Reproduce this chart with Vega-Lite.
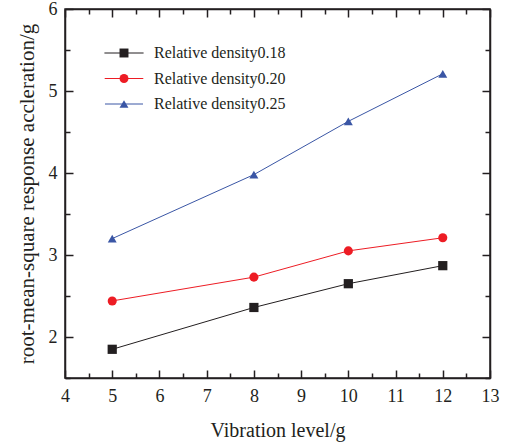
{
  "$schema": "https://vega.github.io/schema/vega-lite/v6.json",
  "width": 425,
  "height": 369,
  "autosize": "none",
  "padding": {"left": 65, "top": 9, "right": 17, "bottom": 67},
  "background": "white",
  "config": {"view": {"stroke": "#231f20", "strokeWidth": 1.5}, "font": "Liberation Serif",
    "axis": {"labelFont": "Liberation Serif", "titleFont": "Liberation Serif"},
    "legend": {"labelFont": "Liberation Serif"}},
  "data": {"values": [
    {"series": "Relative density0.18", "level": 5, "acc": 1.85},
    {"series": "Relative density0.18", "level": 8, "acc": 2.36},
    {"series": "Relative density0.18", "level": 10, "acc": 2.65},
    {"series": "Relative density0.18", "level": 12, "acc": 2.87},
    {"series": "Relative density0.20", "level": 5, "acc": 2.44},
    {"series": "Relative density0.20", "level": 8, "acc": 2.73},
    {"series": "Relative density0.20", "level": 10, "acc": 3.05},
    {"series": "Relative density0.20", "level": 12, "acc": 3.21},
    {"series": "Relative density0.25", "level": 5, "acc": 3.20},
    {"series": "Relative density0.25", "level": 8, "acc": 3.98},
    {"series": "Relative density0.25", "level": 10, "acc": 4.63},
    {"series": "Relative density0.25", "level": 12, "acc": 5.21}
  ]},
  "layer": [
    {
      "mark": {"type": "line", "strokeWidth": 1},
      "encoding": {
        "x": {"field": "level", "type": "quantitative", "scale": {"domain": [4, 13], "nice": false},
          "axis": {"orient": "bottom", "values": [4,4.5,5,5.5,6,6.5,7,7.5,8,8.5,9,9.5,10,10.5,11,11.5,12,12.5,13],
            "labelExpr": "datum.value % 1 === 0 ? format(datum.value, 'd') : ''",
            "tickSize": {"condition": {"test": "datum.value % 1 === 0", "value": -8}, "value": -5},
            "tickColor": "#231f20", "tickWidth": 1.5, "domainColor": "#231f20", "domainWidth": 1.5,
            "labelFontSize": 18, "labelColor": "#231f20", "labelPadding": 17, "labelFlush": false,
            "title": "Vibration level/g", "titleFontSize": 20, "titleFontWeight": "normal", "titleColor": "#231f20", "titlePadding": 15, "grid": false}},
        "y": {"field": "acc", "type": "quantitative", "scale": {"domain": [1.5, 6], "nice": false, "zero": false},
          "axis": {"orient": "left", "values": [1.5,2,2.5,3,3.5,4,4.5,5,5.5,6],
            "labelExpr": "datum.value % 1 === 0 ? format(datum.value, 'd') : ''",
            "tickSize": {"condition": {"test": "datum.value % 1 === 0", "value": -8}, "value": -5},
            "tickColor": "#231f20", "tickWidth": 1.5, "domainColor": "#231f20", "domainWidth": 1.5,
            "labelFontSize": 18, "labelColor": "#231f20", "labelPadding": 16, "labelFlush": false,
            "title": "root-mean-square response accleration/g", "titleFontSize": 21, "titleFontWeight": "normal", "titleColor": "#231f20", "titlePadding": 11, "grid": false}},
        "color": {
          "field": "series", "type": "nominal",
          "scale": {"domain": ["Relative density0.18", "Relative density0.20", "Relative density0.25"], "range": ["#231f20", "#ed1c24", "#3a56a5"]},
          "legend": {
            "orient": "none", "legendX": 51, "legendY": 36, "title": null, "padding": 0,
            "labelFontSize": 16, "labelFont": "Liberation Serif", "labelColor": "#231f20",
            "labelOffset": 22, "rowPadding": 9.5, "symbolSize": 80, "symbolStrokeWidth": 1,
            "symbolType": "M-4.25,0H4.25", "labelLimit": 300, "labelExpr": "datum.label"
          }
        }
      }
    },
    {
      "mark": {"type": "point", "filled": true, "opacity": 1},
      "encoding": {
        "x": {"field": "level", "type": "quantitative",
          "axis": {"orient": "top", "values": [4,4.5,5,5.5,6,6.5,7,7.5,8,8.5,9,9.5,10,10.5,11,11.5,12,12.5,13],
            "labels": false, "title": null, "grid": false,
            "tickSize": {"condition": {"test": "datum.value % 1 === 0", "value": -8}, "value": -5},
            "tickColor": "#231f20", "tickWidth": 1.5, "domainColor": "#231f20", "domainWidth": 1.5}},
        "y": {"field": "acc", "type": "quantitative",
          "axis": {"orient": "right", "values": [1.5,2,2.5,3,3.5,4,4.5,5,5.5,6],
            "labels": false, "title": null, "grid": false,
            "tickSize": {"condition": {"test": "datum.value % 1 === 0", "value": -8}, "value": -5},
            "tickColor": "#231f20", "tickWidth": 1.5, "domainColor": "#231f20", "domainWidth": 1.5}},
        "fill": {"field": "series", "type": "nominal",
          "scale": {"range": ["#231f20", "#ed1c24", "#3a56a5"]},
          "legend": {
            "orient": "none", "legendX": 51, "legendY": 36, "title": null, "padding": 0,
            "labelFontSize": 16, "labelExpr": "''", "rowPadding": 9.5, "symbolSize": 80,
            "symbolStrokeWidth": 0, "symbolOpacity": 1
          }},
        "shape": {"field": "series", "type": "nominal",
          "scale": {"range": ["square", "circle", "triangle-up"]},
          "legend": {
            "orient": "none", "legendX": 51, "legendY": 36, "title": null, "padding": 0,
            "labelFontSize": 16, "labelExpr": "''", "rowPadding": 9.5, "symbolSize": 80,
            "symbolStrokeWidth": 0, "symbolOpacity": 1
          }},
        "size": {"field": "series", "type": "nominal",
          "scale": {"domain": ["Relative density0.18", "Relative density0.20", "Relative density0.25"], "range": [85, 80, 55]},
          "legend": null}
      }
    }
  ],
  "resolve": {"axis": {"x": "independent", "y": "independent"}}
}
